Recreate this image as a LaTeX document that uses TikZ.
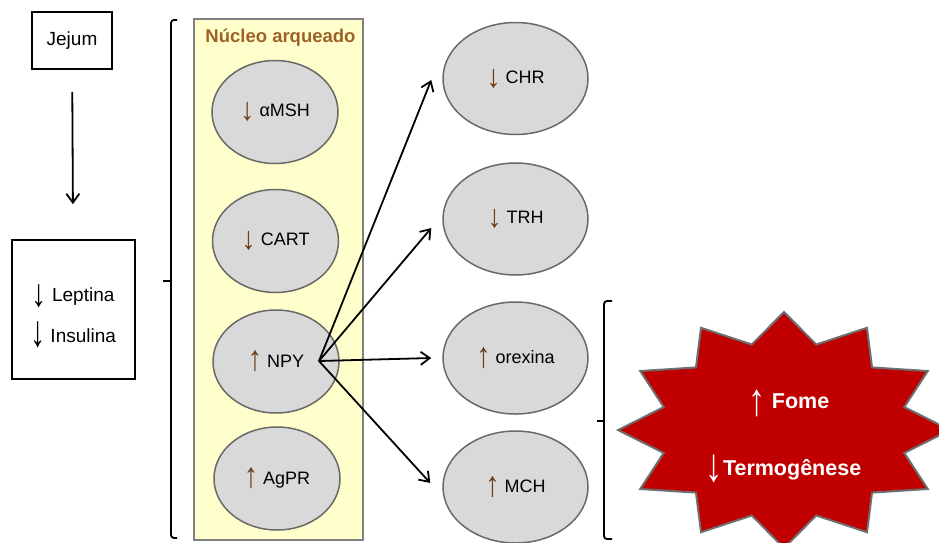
\documentclass[tikz,border=0pt]{standalone}
\usepackage{fontspec}
\usepackage{graphicx}
\setmainfont{Liberation Sans}
\usetikzlibrary{arrows.meta,shapes.geometric}

\definecolor{nucfill}{RGB}{255,255,204}
\definecolor{nucedge}{RGB}{128,128,128}
\definecolor{titlebrown}{RGB}{158,98,40}
\definecolor{cellfill}{RGB}{217,217,217}
\definecolor{celledge}{RGB}{105,105,105}
\definecolor{tipbrown}{RGB}{110,60,20}
\definecolor{starred}{RGB}{192,0,0}
\definecolor{staredge}{RGB}{110,110,110}

% an arrow glyph stretched to a given total height, its foot at a given drop
\newcommand\tallglyph[3]{\raisebox{#3}{\resizebox*{1.6\width}{#2}{\raisebox{\depth}{#1}}}}
\newcommand\uparr{{\color{tipbrown}\tallglyph{↑}{21pt}{-5pt}}}
\newcommand\dnarr{{\color{tipbrown}\tallglyph{↓}{19pt}{-5pt}}}

\tikzset{
  plainbox/.style={draw=black, line width=1.6pt, fill=white, inner sep=0pt},
  leftcell/.style={ellipse, draw=celledge, fill=cellfill, line width=1.5pt,
    minimum width=126pt, minimum height=103pt, inner sep=0pt,
    font=\fontsize{18}{22}\selectfont},
  rightcell/.style={ellipse, draw=celledge, fill=cellfill, line width=1.5pt,
    minimum width=145pt, minimum height=112pt, inner sep=0pt,
    font=\fontsize{18}{22}\selectfont},
  boxtext/.style={inner sep=0pt, font=\fontsize{19}{23}\selectfont},
  link/.style={draw=black, line width=1.8pt,
    -{Straight Barb[length=9pt,width=13pt,line width=1.8pt]}},
  bracket/.style={draw=black, line width=1.8pt, rounded corners=3pt},
  startext/.style={text=white, font=\bfseries\fontsize{21.5}{26}\selectfont}
}

\begin{document}
\begin{tikzpicture}[x=1pt, y=-1pt]
\useasboundingbox (0,0) rectangle (939,542);

% inputs on the left
\node[plainbox, minimum width=80pt, minimum height=57pt,
  font=\fontsize{19}{23}\selectfont] (jejum) at (72,40.5) {Jejum};
\node[plainbox, minimum width=123pt, minimum height=139pt] (horm) at (73.5,309.5) {};
\node[boxtext] (leptina) at (73,296) {\tallglyph{↓}{23pt}{-6pt} Leptina};
\node[boxtext] (insulina) at (73,335) {\tallglyph{↓}{26pt}{-6pt} Insulina};
\draw[link, shorten <=22pt, shorten >=35pt] (jejum) -- (horm);

% brace grouping the arcuate nucleus
\draw[bracket] (177,20) -- (171,20) -- (171,538) -- (177,538);
\draw[draw=black, line width=1.8pt] (171,281) -- (163,281);

% arcuate nucleus
\node[draw=nucedge, fill=nucfill, line width=2.5pt, minimum width=169pt,
  minimum height=521pt, inner sep=0pt] (nucleo) at (278.5,279.5) {};
\node[text=titlebrown, font=\bfseries\fontsize{18.5}{22}\selectfont] (titulo)
  at (280.5,38) {Núcleo arqueado};

\node[leftcell] (amsh) at (275,112) {\dnarr{} αMSH};
\node[leftcell] (cart) at (275.5,241) {\dnarr{} CART};
\node[leftcell] (npy)  at (276,361.5) {\uparr{} NPY};
\node[leftcell] (agpr) at (277,478.5) {\uparr{} AgPR};

% downstream neuropeptides
\node[rightcell] (chr) at (515.5,78.5) {\dnarr{} CHR};
\node[rightcell] (trh) at (515.5,219)  {\dnarr{} TRH};
\node[rightcell] (orx) at (515.5,358)  {\uparr{} orexina};
\node[rightcell] (mch) at (515.5,487)  {\uparr{} MCH};

% projections from NPY
\coordinate (hub) at (319,361);
\draw[link] (hub) -- ([shift={(-11,1.5)}]chr.west);
\draw[link] (hub) -- ([shift={(-11,9)}]trh.west);
\draw[link] (hub) -- ([shift={(-11,0)}]orx.west);
\draw[link] (hub) -- ([shift={(-12,-4)}]mch.west);

% brace grouping orexin and MCH
\draw[bracket] (612,301) -- (604,301) -- (604,539) -- (612,539);
\draw[draw=black, line width=1.8pt] (604,421) -- (597,421);

% outcome burst
\draw[fill=starred, draw=staredge, line width=2pt, line join=miter]
  (784,312) \foreach \i in {1,...,23} {
    -- ({784+(mod(\i,2)==0 ? 166 : 124.5)*sin(15*\i)},
        {430-(mod(\i,2)==0 ? 118 : 88.5)*cos(15*\i)})
  } -- cycle;
\node[startext] (fome) at (789,403) {\tallglyph{↑}{27pt}{-8pt} Fome};
\node[startext] (termo) at (783.5,469) {\tallglyph{↓}{28pt}{-8pt}Termogênese};
\end{tikzpicture}
\end{document}
